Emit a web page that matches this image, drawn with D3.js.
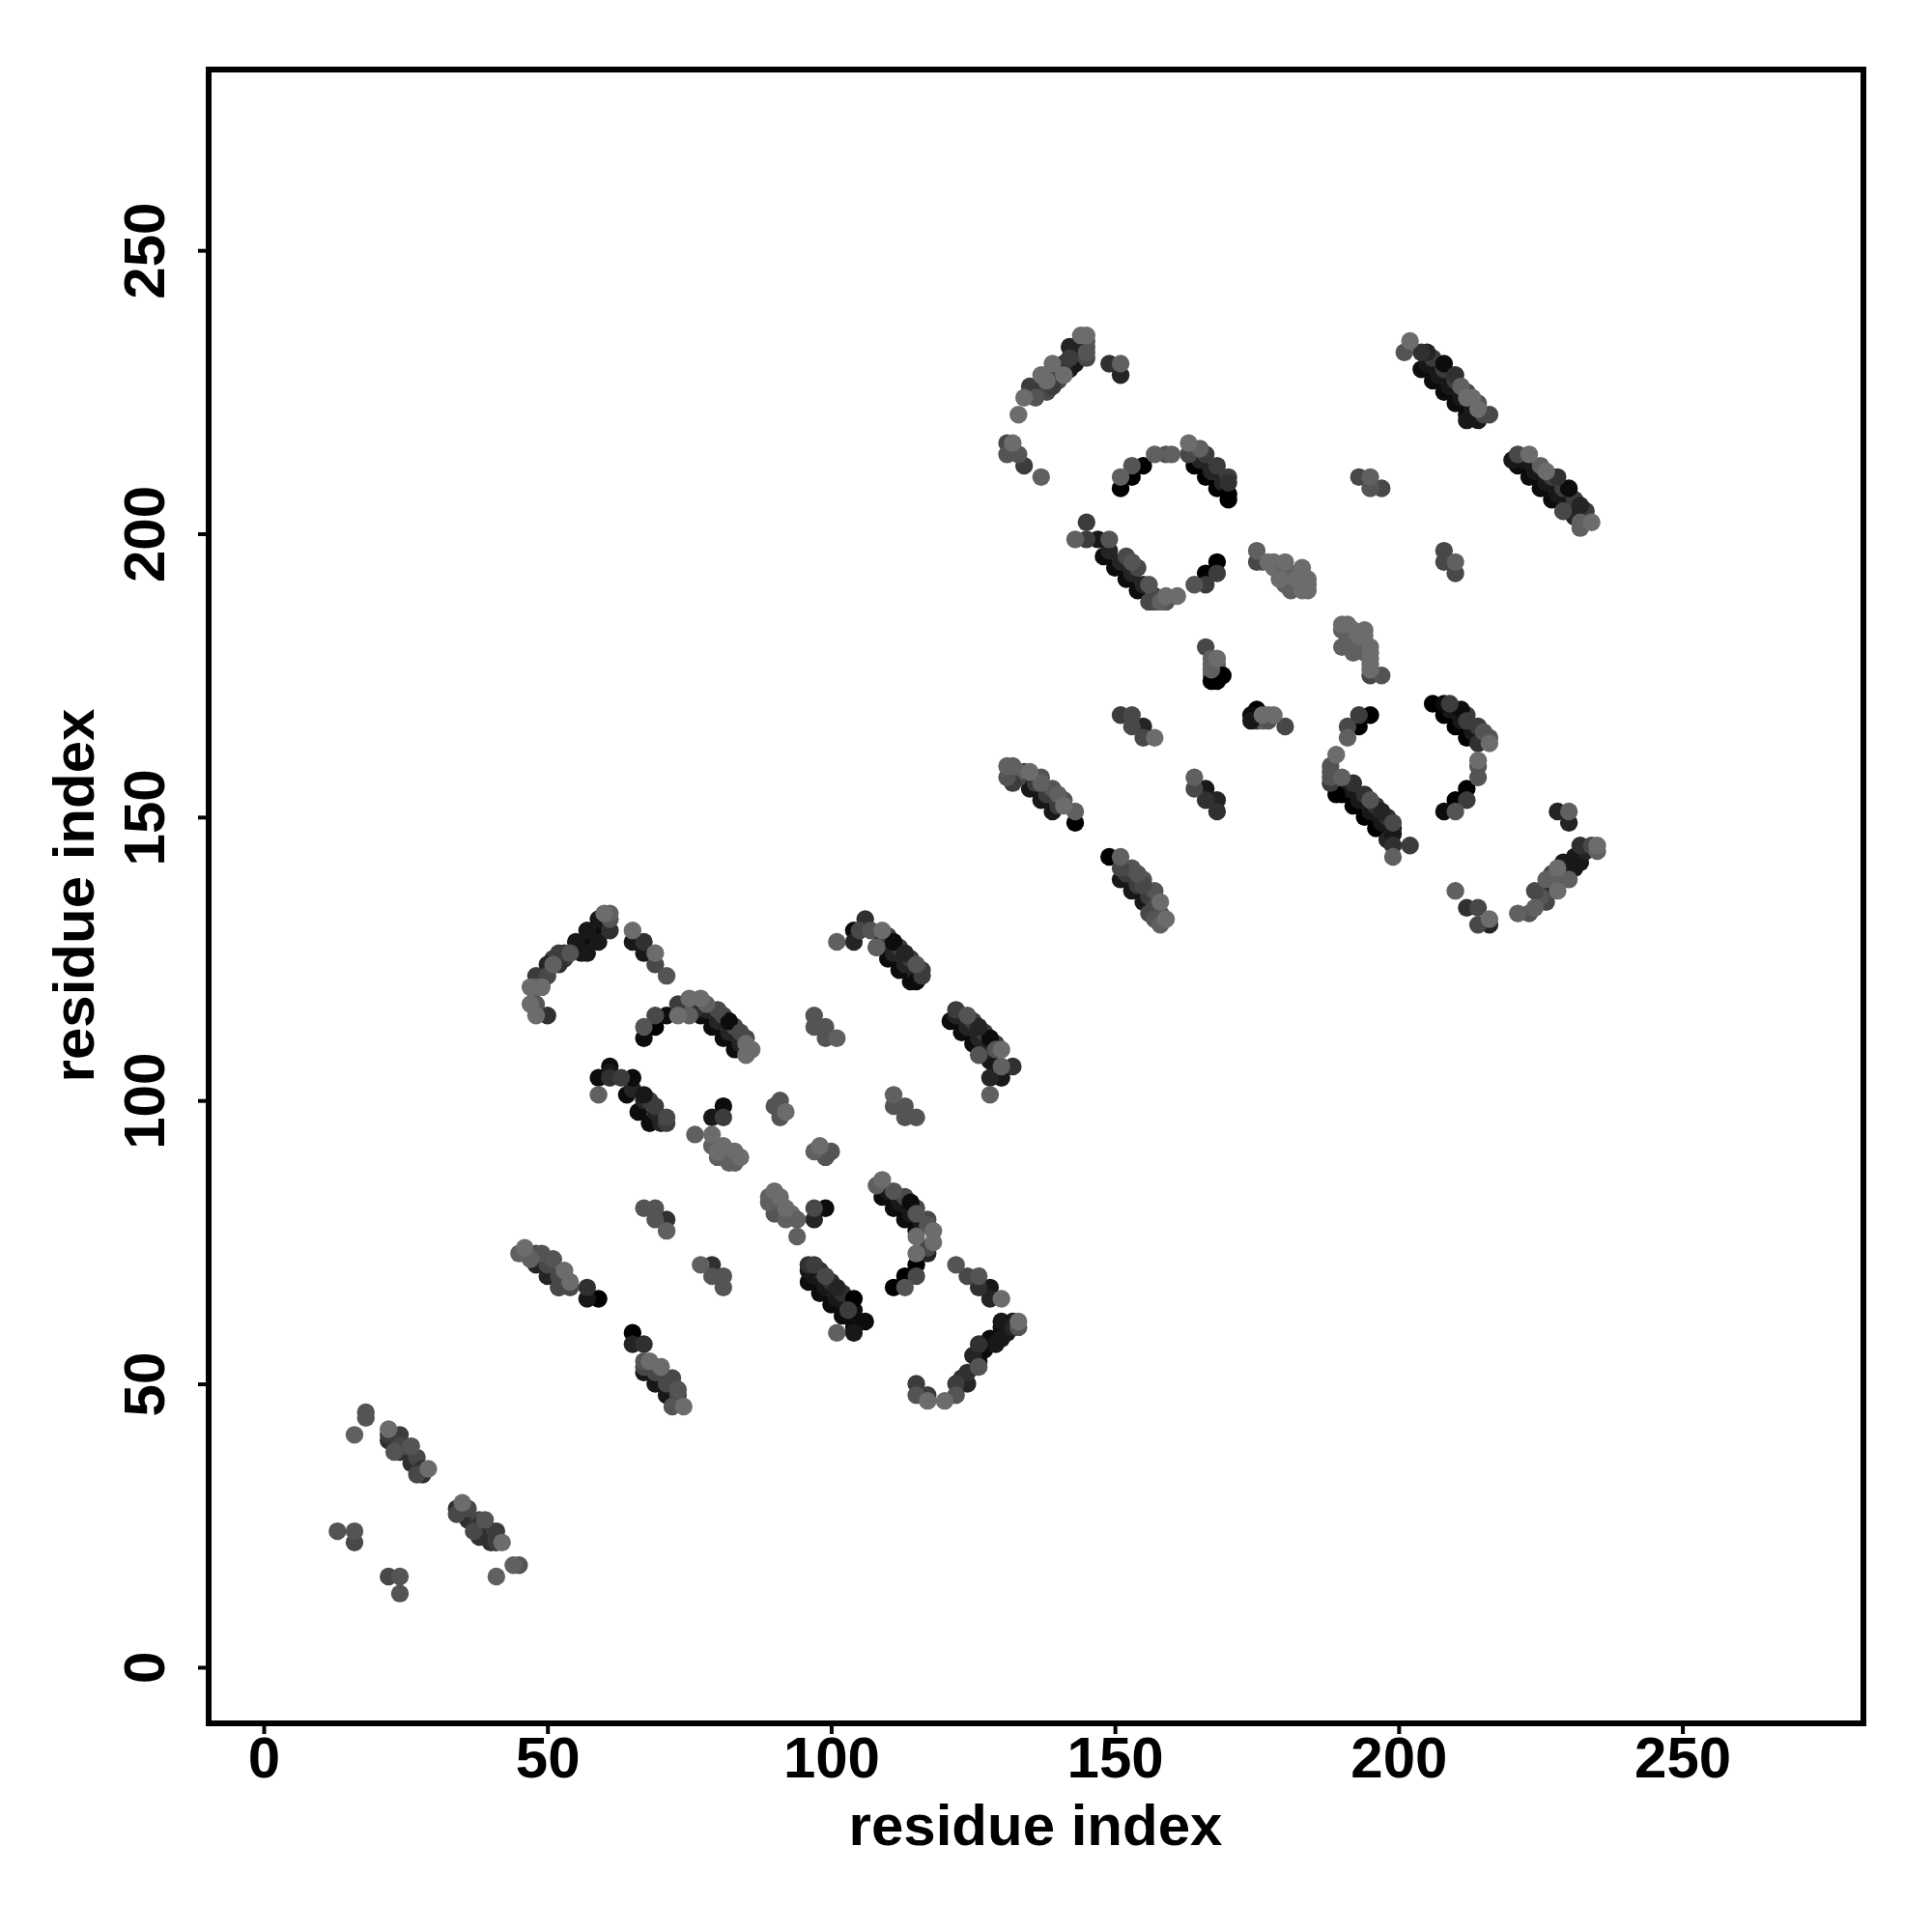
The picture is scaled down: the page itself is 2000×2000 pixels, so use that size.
<!DOCTYPE html>
<html><head><meta charset="utf-8">
<style>html,body{margin:0;padding:0;background:#fff}svg{display:block}text{font-family:"Liberation Sans",Arial,sans-serif;font-weight:700;fill:#000}</style>
<script src="https://cdnjs.cloudflare.com/ajax/libs/d3/7.8.5/d3.min.js"></script>
</head><body><script>
// [residue i, residue j, shade 0 (black) .. 9 (lightest)]
const denseLower=[[22,40,4],[24,38,4],[26,36,4],[28,34,4],[23,41,6],[25,39,6],[27,37,6],
[34,28,4],[36,26,4],[38,24,4],[40,22,4],[36,28,6],[38,26,6],[40,24,6],
[48,71,3],[50,69,3],[52,67,3],[48,73,6],[50,71,6],[52,69,6],[51,72,7],
[67,52,2],[69,50,2],[71,48,2],[69,52,6],[71,50,6],[73,48,6],[70,53,7],[72,51,7],
[108,127,1],[110,125,1],[112,123,1],[114,121,1],[109,128,3],[111,126,3],[113,124,3],[115,122,3],[110,129,5],[112,127,5],[114,125,5],[116,123,5],
[121,114,1],[123,112,1],[125,110,1],[127,108,1],[122,115,3],[124,113,3],[126,111,3],[128,109,3],[125,114,5],[127,112,5],[129,110,5],[128,107,2],[130,105,3],
[77,115,1],[79,113,1],[81,111,1],[83,109,1],[80,114,3],[82,112,3],[84,110,3],[81,115,6],[83,113,6],[85,111,6],
[64,101,1],[66,98,1],[68,96,1],[70,96,3],[65,102,3],[67,100,3],[69,98,3],[68,100,5],[69,99,5],
[96,68,1],[98,66,1],[100,64,1],[102,62,1],[97,69,2],[99,67,2],[101,65,2],[103,63,2],[98,70,4],[100,68,4],[102,66,4],[104,63,1],[104,60,1],
[109,83,1],[111,81,1],[113,79,1],[115,77,1],[110,84,2],[112,82,2],[114,80,2],[116,78,2],[113,83,6],[115,81,6],[117,79,6],
[55,128,2],[57,130,2],[59,132,2],[56,127,1],[58,129,1],[60,131,1],[56,126,2],[49,121,5],[51,125,5],[53,125,5],
[126,54,1],[127,56,1],[128,58,1],[130,60,1],[129,57,2],[130,58,2],[131,59,2],[132,61,2],[125,55,3],[123,51,4],
[81,90,9],[82,91,9],[81,91,8],[83,90,9],[90,82,8],[91,82,9],[91,81,8],[92,80,8],[93,80,9]];
const denseUpper=[[136,225,6],[137,226,5],[138,228,3],[140,229,6],[141,229,2],[142,229,2],[143,231,3],[144,232,2],[145,233,7],[145,234,7],[144,234,3],[138,225,6],[139,228,3],[140,227,6],
[148,196,1],[150,194,1],[152,192,1],[154,190,1],[149,197,3],[151,195,3],[153,193,3],[155,191,3],[152,196,6],[154,194,6],[157,189,6],[157,188,6],
[164,212,0],[166,210,0],[168,208,0],[165,213,3],[167,211,3],[169,209,3],[166,214,5],[168,212,5],[170,210,5],
[204,229,1],[206,227,1],[208,225,1],[210,223,1],[212,221,1],[205,230,2],[207,228,2],[209,226,2],[211,224,2],[213,222,2],[206,231,5],[208,229,5],[210,227,5],[212,225,6],[214,223,7],[216,221,6],
[221,212,1],[223,210,1],[225,208,1],[227,206,1],[229,204,1],[222,213,2],[224,211,2],[226,209,2],[228,207,2],[230,205,2],[227,210,5],[229,208,5],[231,206,5],[233,204,5],[231,203,3],[232,204,2],
[135,155,2],[137,153,2],[139,151,2],[134,158,5],[136,156,5],[138,154,5],[140,152,5],[137,157,7],[139,155,7],[141,153,7],[133,157,6],[133,158,8],
[190,154,0],[192,152,0],[194,150,0],[196,148,0],[191,155,2],[193,153,2],[195,151,2],[197,149,2],[192,156,4],[194,154,4],[196,152,4],[198,150,4],[198,146,3],[199,148,2],[188,158,7],
[151,139,2],[153,137,2],[155,135,2],[152,140,5],[154,138,5],[156,136,5],[153,141,7],[155,139,7],[157,137,7],[157,134,6],[158,133,7],
[208,168,0],[210,166,0],[212,164,0],[209,169,2],[211,167,2],[213,165,2],[212,168,5],[214,166,5],[216,164,7],
[225,136,7],[227,140,6],[227,139,8],[229,140,7],[229,141,3],[229,142,2],[231,141,2],[231,143,2],[232,142,2],[233,144,3],[226,135,6],[223,133,7],[227,137,3],[228,138,3],
[191,183,8],[192,183,9],[192,182,8],[192,181,8],[193,181,8],[194,181,8],[194,182,9],[193,180,8],[194,179,8],[195,179,9],[195,177,9],[191,181,8],[191,182,8],
[181,193,9],[181,192,8],[182,193,9],[182,191,8],[183,192,9],[183,191,9],[184,191,9],[184,192,9],[178,194,9],[178,195,9],[179,194,9],[180,193,9],[180,192,8],[181,190,8],[176,195,8],
[167,177,8],[168,177,8],[168,176,8],[168,175,3],[167,175,8],[175,168,3],[175,167,5],[176,167,8],[177,168,9]];
const lowerLeft=[[13,24,7],[16,24,7],[16,22,6],[16,41,8],[18,45,7],[18,44,7],[22,16,6],[24,16,7],[24,13,7],[41,16,8],[44,18,8],[45,18,7],
[22,41,5],[22,42,9],[23,38,7],[24,39,6],[24,41,5],[26,39,7],[27,34,6],[28,35,4],[29,35,9],
[34,27,6],[35,29,9],[37,24,6],[38,23,4],[38,25,4],[39,26,7],[41,22,5],[41,24,5],[42,22,9]];
const arcA=[[61,130,4],[59,128,2],[57,126,2],[60,133,9],[61,133,8],[61,132,7],[54,126,7],[53,126,5],[52,126,5],[52,124,4],[50,124,3],[51,124,8],[48,122,5],[50,122,6],[47,120,9],[48,120,8],[49,120,9],[47,117,9],[48,117,7],[48,115,9],[50,115,4],
[65,128,2],[65,130,9],[67,128,4],[67,126,2],[69,126,9],[69,124,6],[71,122,7]];
const arcC=[[67,111,1],[67,113,7],[69,113,0],[69,115,6],[71,115,1],[73,117,5],[73,115,9],[75,118,9],[77,118,9],[76,116,4],[75,115,8],[78,117,8],[78,116,3],[80,116,6],[82,114,1],[84,112,6],[85,110,9],[86,109,9],[85,108,9]];
const groupD=[[59,104,1],[61,106,1],[61,105,2],[61,104,4],[59,101,8],[63,104,5],[65,104,1],[67,101,2],[71,96,5],[71,97,6],
[81,99,1],[79,97,2],[81,97,5],[76,94,8],[79,94,9],[79,92,8],[80,91,9],[80,90,8],[81,92,9],[82,89,8],[83,91,9],[83,89,8],[84,90,9],
[91,100,7],[90,99,7],[92,98,9],[91,97,7],[97,115,7],[97,113,7],[99,113,7],[99,111,7],[101,111,8],[97,91,8],[98,92,9],[99,90,7],[100,91,7],[111,101,8],[111,99,7],[113,99,7],[113,97,7],[115,97,7]];
const groupJ=[[101,128,8],[104,130,1],[104,128,3],[106,132,4],[105,130,6],[107,130,7],[109,130,9],[108,127,8],[111,128,1],[113,126,3],[115,124,7],[116,122,5],[115,121,1],
[122,116,5],[124,115,7],[126,113,3],[128,111,1],[126,108,7],[129,109,7],[130,109,9],[128,104,3],[130,104,2],[129,105,2],[132,106,4],[130,106,8],[128,101,8]];
const groupL=[[65,59,0],[65,57,3],[67,57,4],[67,54,7],[68,54,9],[70,53,9],[67,53,6],[72,51,6],[73,49,7],[74,46,9],[72,46,7],
[46,74,9],[45,73,8],[47,72,8],[49,73,7],[51,72,7],[53,70,9],[52,67,6],[54,68,9],[54,67,6],[57,67,4],[57,65,2],[59,65,0],
[67,81,7],[69,81,7],[69,79,7],[71,79,4],[71,77,8],[77,71,8],[79,71,4],[79,69,7],[81,69,7],[81,67,7]];
const groupP=[[90,84,9],[89,83,8],[91,83,9],[89,82,8],[92,81,9],[90,80,7],[92,79,8],[94,79,8],[94,76,8],[97,81,6],[99,81,1],[97,79,3],
[96,71,4],[97,71,5],[96,70,2],[99,69,6],[101,67,3],[104,65,0],[103,63,5],[104,61,1],[106,61,1],[104,59,2],[101,59,8],
[109,86,9],[108,85,8],[111,84,7],[114,82,1],[115,80,7],[117,78,7],[118,77,9],[115,76,9],[118,75,9],[117,74,6],[115,73,9],[117,73,3],[115,71,0],[113,69,0],[115,69,6],[111,67,0],[113,67,7],
[122,71,7],[124,69,6],[126,69,7],[126,67,4],[128,67,2],[128,65,3],[130,65,9]];
const arcT=[[115,50,5],[115,48,7],[117,48,5],[117,47,9],[120,47,9],[122,48,7],[122,50,5],[124,50,3],[124,52,4],[126,53,7],[126,57,4],[130,61,2],[132,60,3],[133,60,7],[133,61,9]];
const arcU=[[133,221,9],[134,224,9],[136,224,7],[135,226,5],[139,226,5],[137,228,9],[138,227,9],[139,230,9],[141,228,9],[141,230,4],[142,233,3],[143,230,2],[142,231,5],[143,233,3],[145,232,7],[145,231,6],[144,235,9],[145,235,9],[149,230,4],[151,230,8],[151,228,3],
[131,216,6],[132,216,9],[131,214,7],[133,214,7],[134,212,5],[137,210,8]];
const arcX=[[151,208,0],[151,210,8],[153,212,7],[153,210,0],[155,212,0],[157,214,8],[159,214,7],[160,214,8],[163,216,9],[163,214,6],[165,215,8],[170,209,4],[170,207,0],[170,206,0]];
const groupY=[[145,202,5],[143,199,8],[145,199,5],[147,199,2],[149,199,7],[153,195,7],[156,191,7],[156,188,6],[158,188,8],[159,189,9],[159,188,7],[161,189,9],
[164,191,7],[166,191,5],[166,193,0],[168,193,5],[168,195,0],[175,197,8],[175,195,6],[177,195,9],[180,195,9],[180,194,8],[183,194,9],[180,191,8],[182,192,9],[184,190,9],[183,190,9],[179,192,9],
[208,197,6],[208,195,6],[210,195,8],[210,193,6],[193,210,6],[195,210,8],[195,208,7],[197,208,6]];
const groupAD=[[202,234,9],[201,232,7],[204,232,4],[205,232,3],[208,230,1],[210,228,4],[211,226,8],[212,224,9],[213,224,9],[214,222,9],[215,221,6],[212,220,2],[214,220,2],
[221,214,6],[220,213,2],[223,214,9],[225,212,8],[226,211,9],[228,210,4],[230,208,1],[232,205,3],[229,204,6],[232,201,8],[232,202,8],[234,202,9]];
const groupAG=[[166,180,6],[168,178,9],[167,178,8],[167,176,8],[167,174,0],[168,174,0],[169,175,0],[190,184,9],[191,184,9],[194,183,9],[190,183,8],[190,180,8],[193,182,9],[192,179,8],[195,180,9],[195,178,9],[195,176,9],[195,175,6],[197,175,7],
[151,168,5],[153,168,6],[153,166,6],[155,166,3],[155,164,6],[157,164,9],[175,169,0],[174,168,1],[174,167,2],[176,168,9],[178,168,9],[177,167,7],[180,166,6],
[191,164,8],[191,166,6],[193,168,5],[193,166,0],[195,168,0]];
const arcAL=[[206,170,0],[208,170,1],[209,170,5],[211,169,1],[212,167,5],[215,165,7],[216,163,9],[214,163,4],[214,160,9],[214,159,7],[214,157,7],[212,155,0],[210,153,0],[212,153,5],[208,151,1],[210,151,7]];
const groupAM=[[131,159,8],[132,159,8],[131,157,7],[132,156,5],[135,158,9],[137,156,8],[140,154,8],[141,152,9],[143,151,8],[143,149,0],
[164,157,8],[164,155,6],[166,155,2],[166,153,4],[168,153,3],[168,151,4]];
const groupAO=[[189,161,9],[188,159,7],[188,157,7],[190,157,8],[188,156,5],[189,154,0],[195,153,7],[197,151,3],[199,149,6],[199,147,2],[199,145,4],[202,145,5],[199,143,8]];
const groupAP=[[149,143,0],[151,143,8],[151,141,6],[154,140,7],[155,138,6],[158,135,9],[156,133,6],[157,132,7],[159,132,9],[158,131,8],
[210,137,8],[212,134,4],[214,134,6],[214,131,6],[216,132,9],[216,131,3]];
const arcAR=[[221,133,8],[224,134,8],[224,137,6],[228,137,9],[226,139,8],[228,141,9],[230,139,8],[230,141,2],[232,145,4],[234,145,6],[235,145,9],[235,144,8],
[228,151,3],[230,151,8],[230,149,3]];
const groups=[denseLower,denseUpper,lowerLeft,arcA,arcC,groupD,groupJ,groupL,groupP,arcT,arcU,arcX,groupY,groupAD,groupAG,arcAL,groupAM,groupAO,groupAP,arcAR];
const xTicks=[0,50,100,150,200,250], yTicks=[0,50,100,150,200,250];
const xLabel="residue index", yLabel="residue index";

const svg=d3.select("body").append("svg").attr("width",2000).attr("height",2000);
const left=216,right=1929,top_=72,bottom=1784;
const x=d3.scaleLinear().domain([-9.7,281.9]).range([left,right]);
const y=d3.scaleLinear().domain([-9.9,281.9]).range([bottom,top_]);
const shade=d3.scaleLinear().domain([0,9]).range(["#000000","#6c6c6c"]);

groups.forEach(g=>{
  svg.append("g").selectAll("circle").data(g.slice().sort((a,b)=>a[2]-b[2])).join("circle")
    .attr("cx",d=>x(d[0])).attr("cy",d=>y(d[1])).attr("r",9.2).attr("fill",d=>shade(d[2]));
});
svg.append("rect").attr("x",left).attr("y",top_).attr("width",right-left).attr("height",bottom-top_).attr("fill","none").attr("stroke","#000").attr("stroke-width",6);

const ax=svg.append("g").attr("transform",`translate(0,${bottom})`).call(d3.axisBottom(x).tickValues(xTicks).tickSize(11).tickPadding(0));
ax.select(".domain").remove();
ax.selectAll("line").attr("stroke","#000").attr("stroke-width",4);
ax.selectAll("text").attr("y",0).attr("dy",0).attr("transform",`translate(0,${1840-bottom})`).attr("font-size",60).style("font-family",'"Liberation Sans"').style("font-weight",700);
const ay=svg.append("g").attr("transform",`translate(${left},0)`).call(d3.axisLeft(y).tickValues(yTicks).tickSize(11).tickPadding(0));
ay.select(".domain").remove();
ay.selectAll("line").attr("stroke","#000").attr("stroke-width",4);
ay.selectAll("text").attr("x",0).attr("dy",0).attr("text-anchor","middle").attr("transform",`translate(${170-left},0) rotate(-90)`).attr("font-size",60).style("font-family",'"Liberation Sans"').style("font-weight",700);
svg.append("text").attr("x",1072).attr("y",1910).attr("text-anchor","middle").attr("font-size",60).text(xLabel);
svg.append("text").attr("transform","translate(97,927) rotate(-90)").attr("text-anchor","middle").attr("font-size",60).text(yLabel);
</script></body></html>
